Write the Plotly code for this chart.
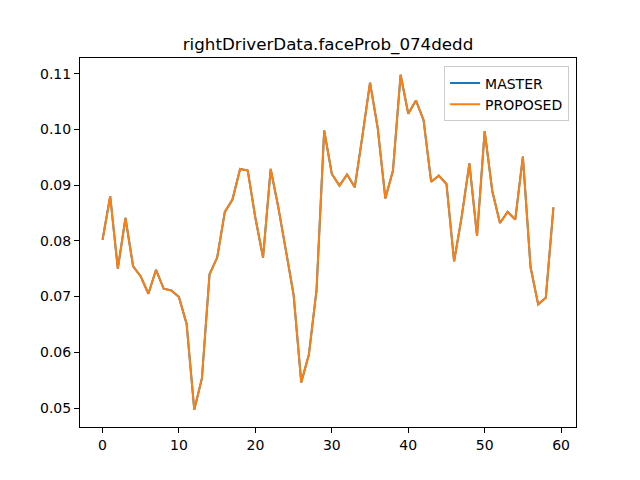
import plotly.graph_objects as go

# --- Data ---
frames = list(range(60))
master = [
    0.0802, 0.0880, 0.0750, 0.0841, 0.0754, 0.0736, 0.0705, 0.0748, 0.0714, 0.0711,
    0.0699, 0.0651, 0.0497, 0.0553, 0.0740, 0.0770, 0.0852, 0.0874, 0.0929, 0.0926,
    0.0841, 0.0770, 0.0929, 0.0860, 0.0782, 0.0703, 0.0546, 0.0596, 0.0712, 0.0998,
    0.0920, 0.0899, 0.0919, 0.0896, 0.0988, 0.1084, 0.1003, 0.0876, 0.0926, 0.1098,
    0.1028, 0.1052, 0.1017, 0.0906, 0.0917, 0.0902, 0.0763, 0.0844, 0.0939, 0.0809,
    0.0997, 0.0889, 0.0832, 0.0852, 0.0838, 0.0951, 0.0753, 0.0686, 0.0698, 0.0860,
]
proposed = list(master)

title = "rightDriverData.faceProb_074dedd"

fig = go.Figure()
fig.add_trace(go.Scatter(x=frames, y=master, mode="lines", name="MASTER",
                         line=dict(color="#1f77b4", width=2)))
fig.add_trace(go.Scatter(x=frames, y=proposed, mode="lines", name="PROPOSED",
                         line=dict(color="#ff7f0e", width=2)))

axis_style = dict(
    showgrid=False, zeroline=False,
    showline=True, linecolor="black", linewidth=1, mirror=True,
    ticks="outside", ticklen=5, tickcolor="black", tickwidth=1,
    tickfont=dict(size=14, color="black"),
)

# the page body adds an 8px offset, so margins are shifted to compensate
fig.update_layout(
    width=640, height=480,
    margin=dict(l=72, r=72, t=49.6, b=60.8),
    paper_bgcolor="white", plot_bgcolor="white",
    font=dict(family="DejaVu Sans", color="black"),
    title=dict(text=title, x=0.5, xanchor="center", xref="paper",
               y=0.925, yref="container", yanchor="middle",
               font=dict(size=16.7, color="black")),
    showlegend=True,
    legend=dict(x=0.986, y=0.977, xanchor="right", yanchor="top",
                bgcolor="rgba(255,255,255,0.8)", bordercolor="#cccccc", borderwidth=1,
                font=dict(size=14, color="black"), tracegroupgap=0),
)
fig.update_xaxes(range=[-2.95, 61.95], tickvals=[0, 10, 20, 30, 40, 50, 60], **axis_style)
fig.update_yaxes(range=[0.04659, 0.11281], tickvals=[0.05, 0.06, 0.07, 0.08, 0.09, 0.10, 0.11],
                 tickformat=".2f", **axis_style)

fig.write_html("out.html")
